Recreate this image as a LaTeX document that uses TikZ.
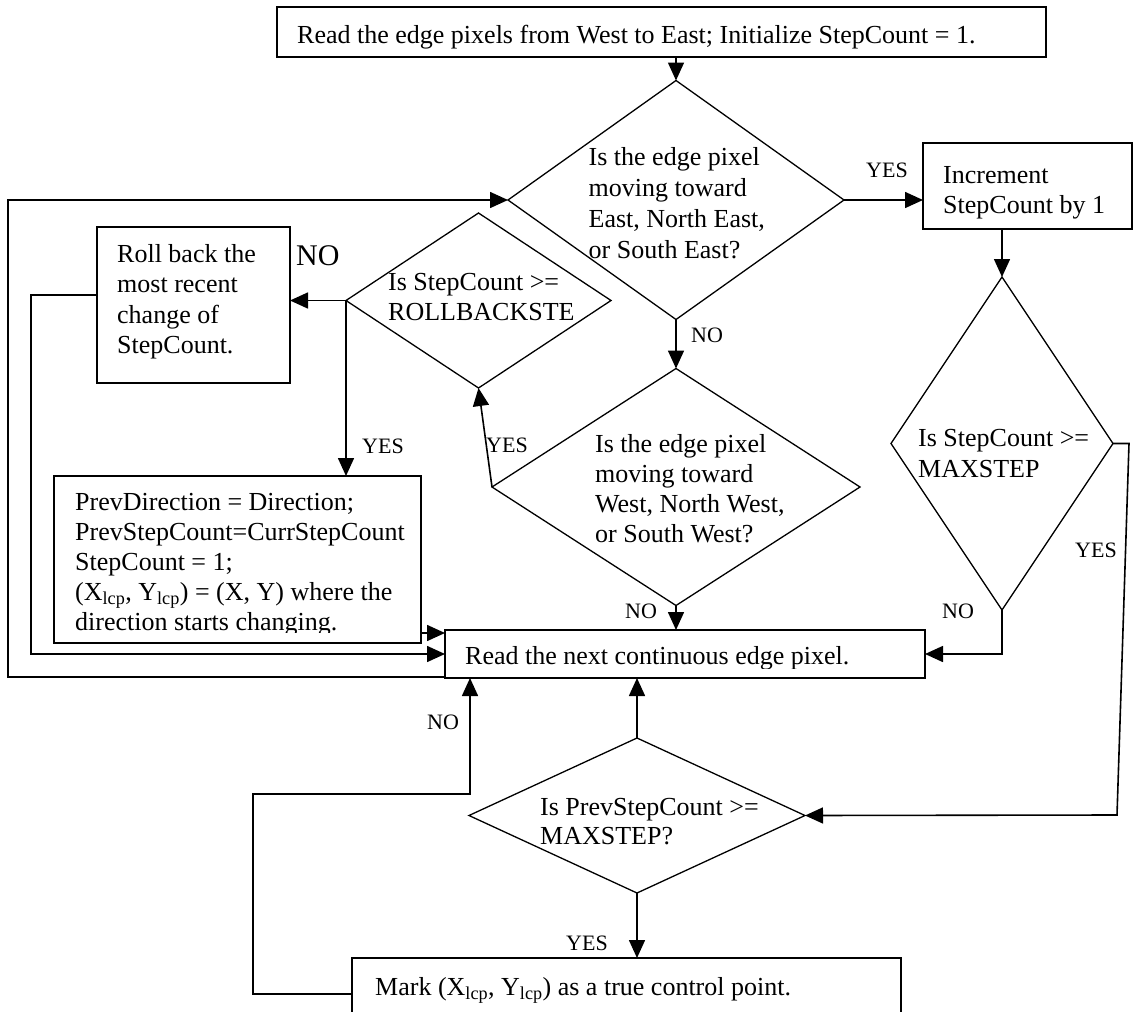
\documentclass[tikz,border=0pt]{standalone}
\usepackage{fontspec}
\setmainfont{Liberation Serif}
\usetikzlibrary{shapes.geometric,arrows.meta}
\begin{document}
\begin{tikzpicture}[x=1pt,y=-1pt,
  box/.style={draw, line width=1.8pt, rectangle, inner sep=0pt, outer sep=0pt},
  dia/.style={draw, line width=1.3pt, diamond, inner sep=0pt, outer sep=0pt},
  txt/.style={anchor=base west, inner sep=0pt, font=\fontsize{26}{30}\selectfont},
  lbl/.style={anchor=base west, inner sep=0pt, font=\fontsize{22}{26}\selectfont},
  biglbl/.style={anchor=base west, inner sep=0pt, font=\fontsize{30}{34}\selectfont},
  arr/.style={line width=1.6pt, -{Triangle[length=18pt,width=16pt]}},
  wire/.style={line width=1.6pt}]
\useasboundingbox (0,0) rectangle (1133,1012);
\clip (0,0) rectangle (1133,1012);

% ---- process boxes ----
\node[box, minimum width=769pt, minimum height=50pt]  (start) at (661.5,32) {};
\node[box, minimum width=209pt, minimum height=86pt]  (inc)   at (1027.5,186) {};
\node[box, minimum width=193pt, minimum height=156pt] (roll)  at (193.5,305) {};
\node[box, minimum width=367pt, minimum height=167pt] (prev)  at (237.5,559.5) {};
\node[box, minimum width=480pt, minimum height=48pt]  (read)  at (685,654) {};
\node[box, minimum width=549pt, minimum height=72pt]  (mark)  at (626.5,994) {};

% ---- decisions ----
\node[dia, minimum width=336pt, minimum height=239pt] (east) at (676,200) {};
\node[dia, minimum width=265pt, minimum height=175pt] (rbk)  at (478.5,300.5) {};
\node[dia, minimum width=368pt, minimum height=237pt] (west) at (676,487) {};
\node[dia, minimum width=222pt, minimum height=333pt] (maxs) at (1002,443.5) {};
\node[dia, minimum width=336pt, minimum height=155pt] (psc)  at (637,815.5) {};

% ---- texts ----
\node[txt] (startt) at (297,43) {Read the edge pixels from West to East; Initialize StepCount = 1.};
\foreach \s [count=\i] in {Is the edge pixel, moving toward, {East, North East,}, or South East?}
  \node[txt] (eastt\i) at (588.5,134+31*\i) {\s};
\foreach \s [count=\i] in {Increment, StepCount by 1}
  \node[txt] (inct\i) at (943,153+30*\i) {\s};
\foreach \s [count=\i] in {Is StepCount >=, ROLLBACKSTE}
  \node[txt] (rbkt\i) at (388,260+30*\i) {\s};
\foreach \s [count=\i] in {Roll back the, most recent, change of, StepCount.}
  \node[txt] (rollt\i) at (117,231.5+30.5*\i) {\s};
\foreach \s [count=\i] in {Is the edge pixel, moving toward, {West, North West,}, or South West?}
  \node[txt] (westt\i) at (595,422+30*\i) {\s};
\foreach \s [count=\i] in {Is StepCount >=, MAXSTEP}
  \node[txt] (maxst\i) at (918,415+31*\i) {\s};
\foreach \s [count=\i] in {PrevDirection = Direction;, PrevStepCount=CurrStepCount, StepCount = 1;,
    {(X\textsubscript{lcp}, Y\textsubscript{lcp}) = (X, Y) where the}}
  \node[txt] (prevt\i) at (75,480+30*\i) {\s};
\begin{scope}
  \clip (54,476) rectangle (421,632);
  \node[txt] (prevt5) at (75,630) {direction starts changing.};
\end{scope}
\begin{scope}
  \clip (445,630) rectangle (925,668);
  \node[txt] (readt) at (465,664) {Read the next continuous edge pixel.};
\end{scope}
\foreach \s [count=\i] in {Is PrevStepCount >=, MAXSTEP?}
  \node[txt] (psct\i) at (540,786+29*\i) {\s};
\node[txt] (markt) at (375,995) {Mark (X\textsubscript{lcp}, Y\textsubscript{lcp}) as a true control point.};

% ---- branch labels ----
\node[lbl] (l1) at (866,177) {YES};
\node[lbl] (l2) at (691,342) {NO};
\node[biglbl] (l3) at (296,265) {NO};
\node[lbl] (l4) at (362,453) {YES};
\node[lbl] (l5) at (486,452) {YES};
\node[lbl] (l6) at (625,618) {NO};
\node[lbl] (l7) at (942,618) {NO};
\node[lbl] (l8) at (1075,557) {YES};
\node[lbl] (l9) at (427,729) {NO};
\node[lbl] (l10) at (566,950) {YES};

% ---- loop corners ----
\coordinate (outerL) at (8,677);
\coordinate (yesbend) at (1117,815);
\coordinate (markup) at (470,794);

% ---- connectors ----
\draw[arr] (east.north |- start.south) -- (east.north);
\draw[arr] (east.east) -- (east.east -| inc.west);
\draw[arr] (maxs.north |- inc.south) -- (maxs.north);
\draw[arr] (east.south) -- (west.north);
\draw[arr] (rbk.west) -- (rbk.west -| roll.east);
\draw[arr] (rbk.west) -- (rbk.west |- prev.north);
\draw[arr] (west.west) -- (rbk.south);
\draw[arr] (west.south) -- (west.south |- read.north);
\draw[arr] ([yshift=21pt]read.west -| prev.east) -- ([yshift=21pt]read.west);
\draw[arr] ([yshift=10pt]roll.west) -- ++(-66,0) |- (read.west);
\draw[arr] ([yshift=1pt]read.south west) -- (outerL) |- (east.west);
\draw[arr] (maxs.south) |- (read.east);
\draw[arr] (maxs.east) -- ++(16,0) -- (yesbend) -- (psc.east);
\draw[arr] (psc.north) -- (psc.north |- read.south);
\draw[arr] (psc.south) -- (psc.south |- mark.north);
\draw[arr] (mark.west) -- ++(-99,0) |- (markup) -- (markup |- read.south);
\end{tikzpicture}
\end{document}
